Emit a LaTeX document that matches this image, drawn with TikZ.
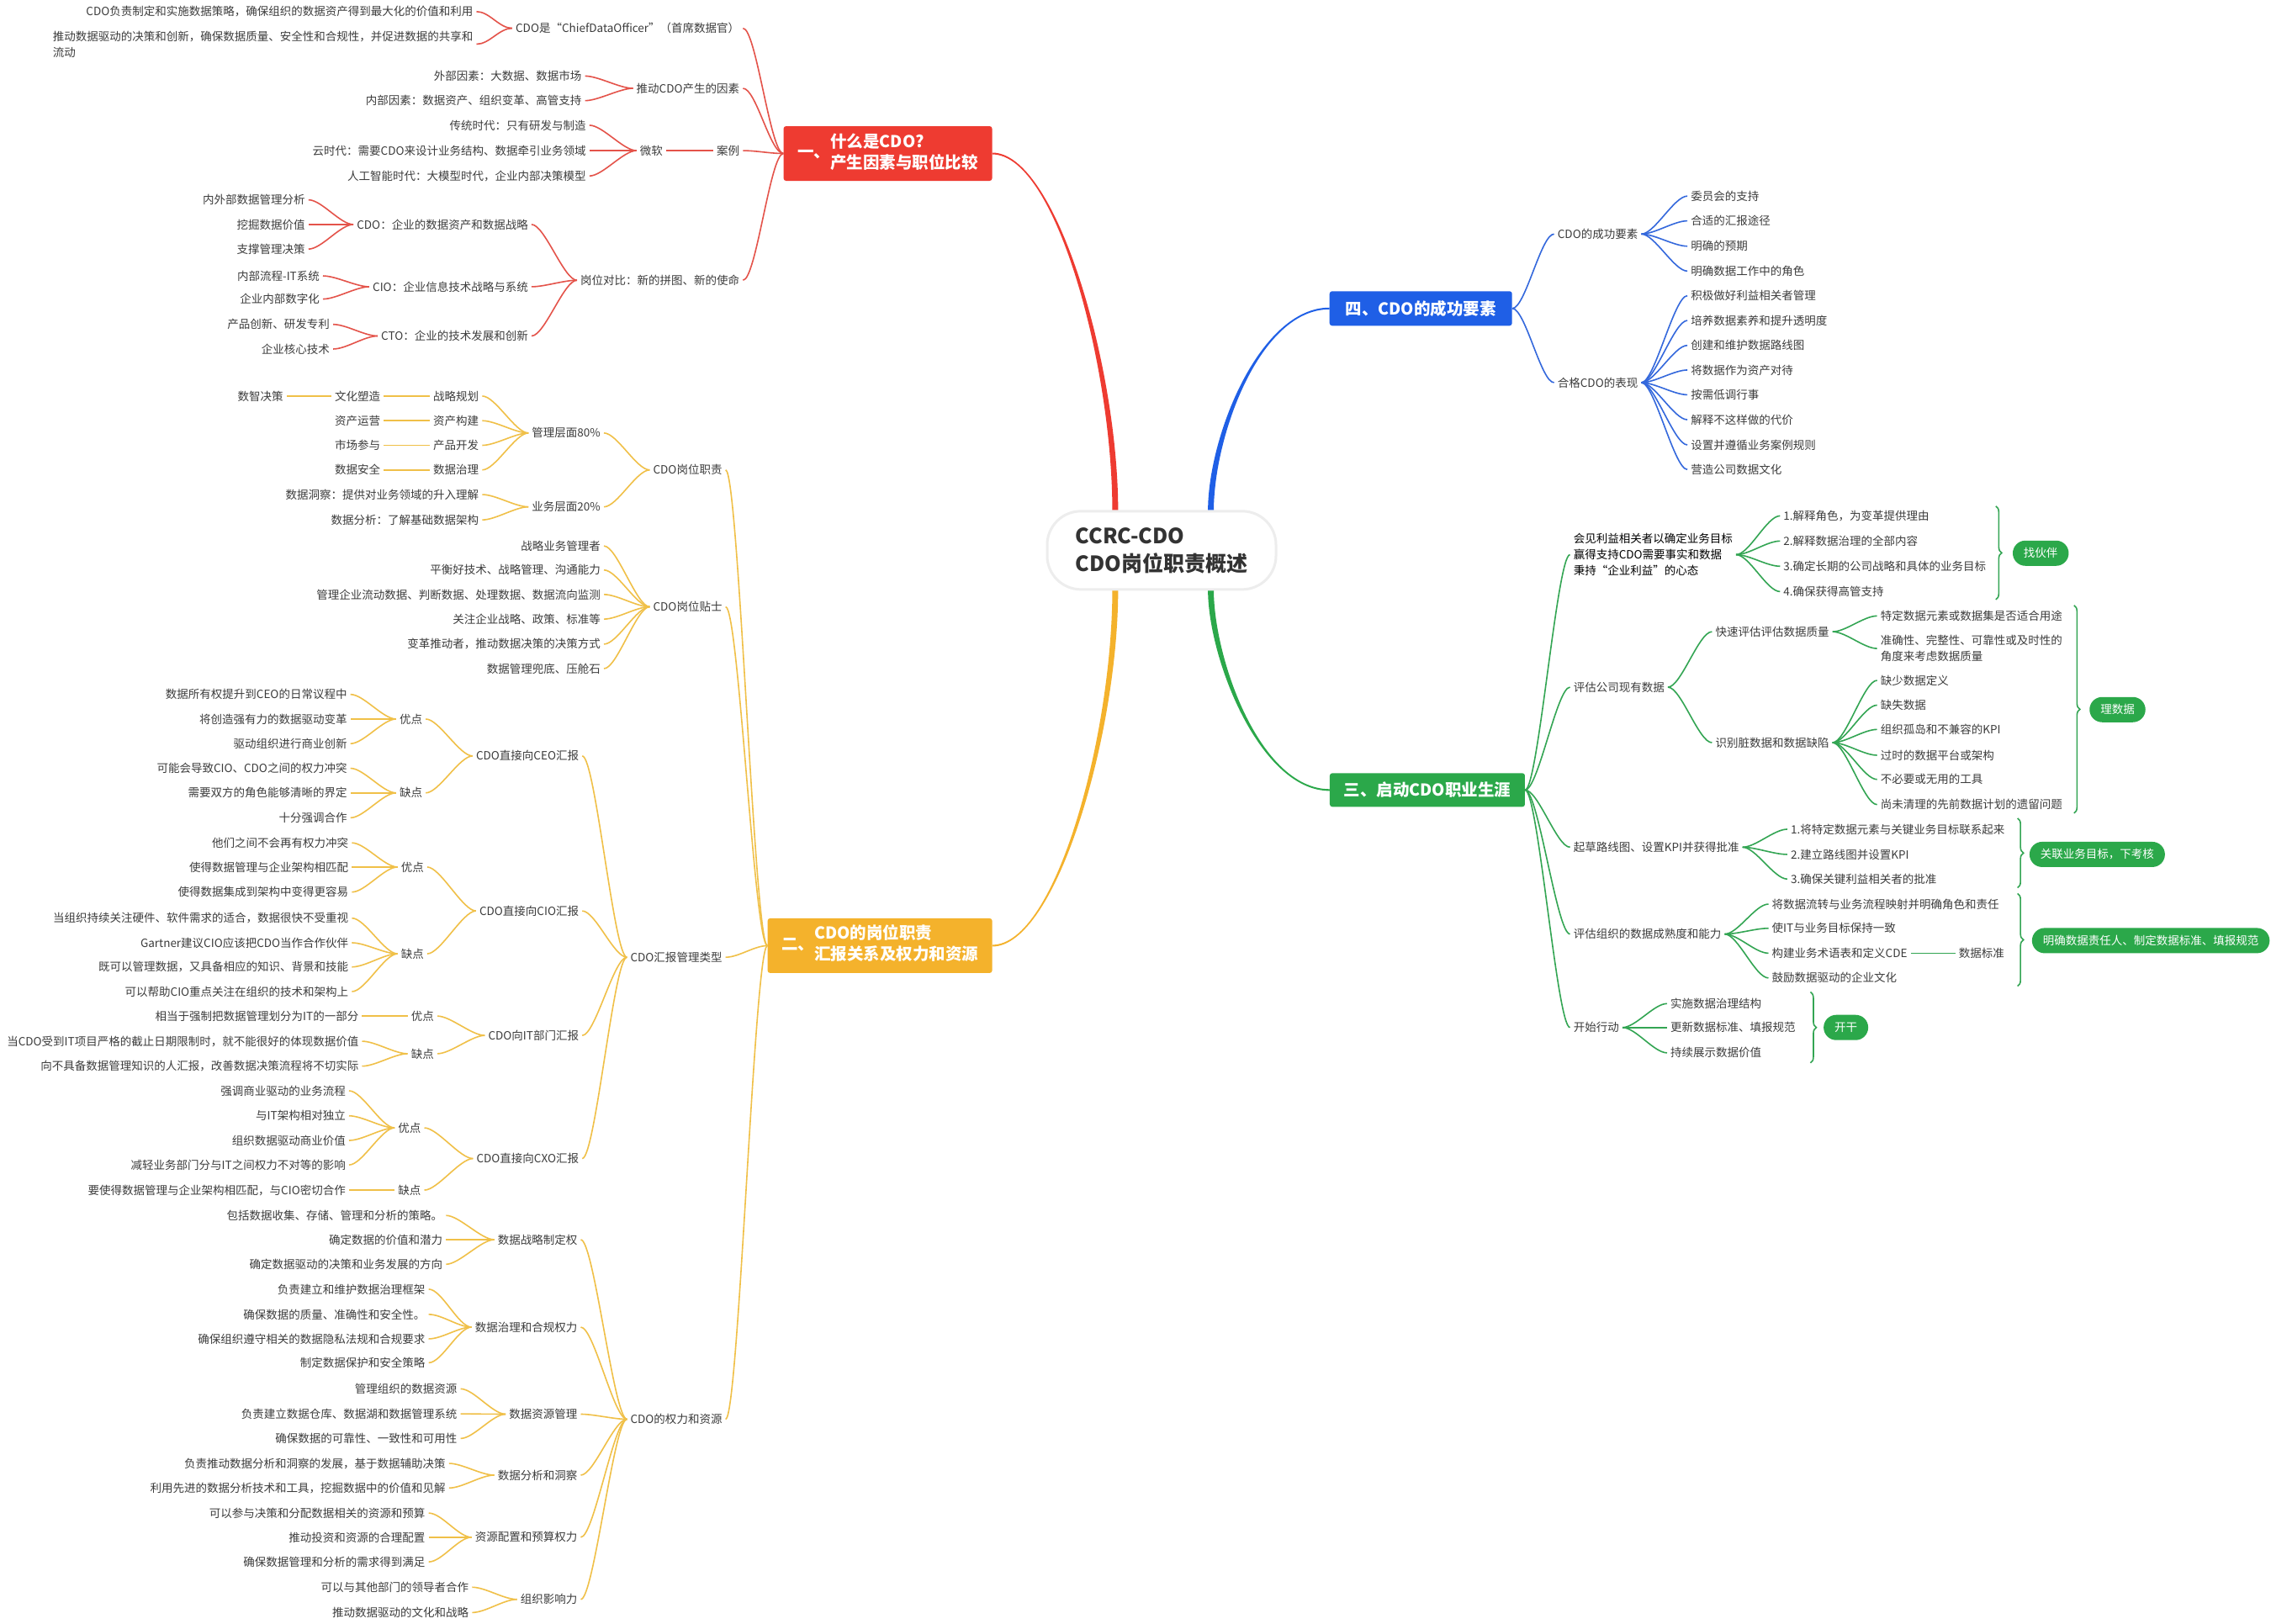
\documentclass[tikz,border=0pt]{standalone}
\usepackage{fontspec}
\setmainfont{Noto Sans CJK SC}
\usetikzlibrary{calc,decorations.pathreplacing}
\definecolor{ink}{HTML}{3C3C3C}
\definecolor{whatfill}{HTML}{EE3B31}
\definecolor{whatline}{HTML}{E4534A}
\definecolor{dutyfill}{HTML}{F4B22C}
\definecolor{dutyline}{HTML}{F0C048}
\definecolor{keysfill}{HTML}{1F5FE6}
\definecolor{keysline}{HTML}{3468DC}
\definecolor{careerfill}{HTML}{2BA84A}
\definecolor{careerline}{HTML}{33A553}
\newcommand{\leftkids}[3]{
  \foreach \kid in {#3} {
    \draw[#1] (#2.west) .. controls +(-9,0) and +(9,0) .. (\kid.east);
  }
}
\newcommand{\rightkids}[3]{
  \foreach \kid in {#3} {
    \draw[#1] (#2.east) .. controls +(9,0) and +(-9,0) .. (\kid.west);
  }
}
\newcommand{\trunk}[6]{
  \fill[#1] ($(#2)+(-2,0)$) .. controls +(#3) and +(#4) .. ($(#5)+(0,#6)$)
    -- ($(#5)+(0,-#6)$) .. controls +(#4) and +(#3) .. ($(#2)+(2,0)$) -- cycle;
  \fill[#1] (#2) circle[radius=3.4pt];
}
\newcommand{\topictext}[3]{#1\begin{tabular}{@{}l@{}}#2\\#3\end{tabular}}

\begin{document}
\begin{tikzpicture}[
    x=1.7219pt, y=-1.7219pt,
    every node/.style={font=\fontsize{13.5}{19}\selectfont, text=ink},
    lt/.style={anchor=east, inner sep=4pt, align=left},
    rt/.style={anchor=west, inner sep=4pt, align=left},
    topic/.style={rounded corners=3pt, text=white, inner sep=0pt, font=\fontsize{19.5}{25}\selectfont\bfseries},
    root/.style={rounded corners=40pt, draw=black!7, line width=3pt, fill=white, align=left, minimum width=272pt, minimum height=93pt, text=black!80, font=\fontsize{25}{33}\selectfont\bfseries},
    pill/.style={fill=careerfill, text=white, rounded corners=15pt, minimum height=30pt, inner xsep=13pt, inner ysep=0pt},
    what link/.style={draw=whatline, line width=1.6pt},
    duty link/.style={draw=dutyline, line width=1.6pt},
    keys link/.style={draw=keysline, line width=1.6pt},
    career link/.style={draw=careerline, line width=1.6pt},
    brace link/.style={draw=careerline, line width=1.6pt, decorate, decoration={brace, amplitude=7pt}},
  ]
  \useasboundingbox (0,0) rectangle (1568,1121);
  \fill[white] (0,0) rectangle (1568,1121);

  \node[topic, fill=whatfill, minimum width=248pt, minimum height=65pt] (what) at (613,106) {\topictext{一、}{什么是CDO?}{产生因素与职位比较}};
  \node[topic, fill=dutyfill, minimum width=267pt, minimum height=65pt] (duty) at (607.5,653) {\topictext{二、}{CDO的岗位职责}{汇报关系及权力和资源}};
  \node[topic, fill=keysfill, minimum width=217pt, minimum height=41pt] (keys) at (981,213) {四、CDO的成功要素};
  \node[topic, fill=careerfill, minimum width=232pt, minimum height=40pt] (career) at (985.5,545.5) {三、启动CDO职业生涯};

  \coordinate (root-nw) at (770,353);
  \coordinate (root-ne) at (836,353);
  \coordinate (root-sw) at (770,407);
  \coordinate (root-se) at (836,407);
  \trunk{whatfill}{root-nw}{0,-100}{44,0}{what.east}{0.6}
  \trunk{dutyfill}{root-sw}{0,100}{44,0}{duty.east}{-0.6}
  \trunk{keysfill}{root-ne}{0,-52}{-48,0}{keys.west}{-0.6}
  \trunk{careerfill}{root-se}{0,48}{-48,0}{career.west}{0.6}

  \node[root] (root) at (802,380) {CCRC-CDO\\CDO岗位职责概述};

  % 一
  \node[lt] (what-chief) at (513,19.5) {CDO是“ChiefDataOfficer”（首席数据官）};
  \node[lt] (what-drive) at (513,61) {推动CDO产生的因素};
  \node[lt] (what-case) at (513,104) {案例};
  \node[lt] (what-compare) at (513,193.5) {岗位对比：新的拼图、新的使命};
  \leftkids{what link}{what}{what-chief,what-drive,what-case,what-compare}

  \node[lt] (chief-a) at (329,8) {CDO负责制定和实施数据策略，确保组织的数据资产得到最大化的价值和利用};
  \node[lt] (chief-b) at (329,30.5) {推动数据驱动的决策和创新，确保数据质量、安全性和合规性，并促进数据的共享和\\流动};
  \leftkids{what link}{what-chief}{chief-a,chief-b}

  \node[lt] (drive-out) at (404,52.5) {外部因素：大数据、数据市场};
  \node[lt] (drive-in) at (404,69.5) {内部因素：数据资产、组织变革、高管支持};
  \leftkids{what link}{what-drive}{drive-out,drive-in}

  \node[lt] (case-ms) at (460,104) {微软};
  \leftkids{what link}{what-case}{case-ms}
  \node[lt] (era-a) at (407,86.5) {传统时代：只有研发与制造};
  \node[lt] (era-b) at (407,104) {云时代：需要CDO来设计业务结构、数据牵引业务领域};
  \node[lt] (era-c) at (407,121.5) {人工智能时代：大模型时代，企业内部决策模型};
  \leftkids{what link}{case-ms}{era-a,era-b,era-c}

  \node[lt] (cmp-cdo) at (367,155) {CDO：企业的数据资产和数据战略};
  \node[lt] (cmp-cio) at (367,198) {CIO：企业信息技术战略与系统};
  \node[lt] (cmp-cto) at (367,232) {CTO：企业的技术发展和创新};
  \leftkids{what link}{what-compare}{cmp-cdo,cmp-cio,cmp-cto}
  \node[lt] (cdo-a) at (213,138) {内外部数据管理分析};
  \node[lt] (cdo-b) at (213,155) {挖掘数据价值};
  \node[lt] (cdo-c) at (213,172) {支撑管理决策};
  \leftkids{what link}{cmp-cdo}{cdo-a,cdo-b,cdo-c}
  \node[lt] (cio-a) at (223,190.5) {内部流程-IT系统};
  \node[lt] (cio-b) at (223,206.5) {企业内部数字化};
  \leftkids{what link}{cmp-cio}{cio-a,cio-b}
  \node[lt] (cto-a) at (230,224) {产品创新、研发专利};
  \node[lt] (cto-b) at (230,241) {企业核心技术};
  \leftkids{what link}{cmp-cto}{cto-a,cto-b}

  % 二
  \node[lt] (duty-role) at (501,324.5) {CDO岗位职责};
  \node[lt] (duty-tips) at (501,419) {CDO岗位贴士};
  \node[lt] (duty-report) at (501,661) {CDO汇报管理类型};
  \node[lt] (duty-power) at (501,980) {CDO的权力和资源};
  \leftkids{duty link}{duty}{duty-role,duty-tips,duty-report,duty-power}

  \node[lt] (role-mgmt) at (417,299) {管理层面80\%};
  \node[lt] (role-biz) at (417,350) {业务层面20\%};
  \leftkids{duty link}{duty-role}{role-mgmt,role-biz}
  \node[lt] (mgmt-a) at (333,273.5) {战略规划};
  \node[lt] (mgmt-b) at (333,290.5) {资产构建};
  \node[lt] (mgmt-c) at (333,307.5) {产品开发};
  \node[lt] (mgmt-d) at (333,324.5) {数据治理};
  \leftkids{duty link}{role-mgmt}{mgmt-a,mgmt-b,mgmt-c,mgmt-d}
  \node[lt] (mgmt-a2) at (265,273.5) {文化塑造};
  \node[lt] (mgmt-a3) at (198,273.5) {数智决策};
  \node[lt] (mgmt-b2) at (265,290.5) {资产运营};
  \node[lt] (mgmt-c2) at (265,307.5) {市场参与};
  \node[lt] (mgmt-d2) at (265,324.5) {数据安全};
  \leftkids{duty link}{mgmt-a}{mgmt-a2}
  \leftkids{duty link}{mgmt-a2}{mgmt-a3}
  \leftkids{duty link}{mgmt-b}{mgmt-b2}
  \leftkids{duty link}{mgmt-c}{mgmt-c2}
  \leftkids{duty link}{mgmt-d}{mgmt-d2}
  \node[lt] (biz-a) at (333,341.5) {数据洞察：提供对业务领域的升入理解};
  \node[lt] (biz-b) at (333,359) {数据分析：了解基础数据架构};
  \leftkids{duty link}{role-biz}{biz-a,biz-b}

  \node[lt] (tip-1) at (417,377) {战略业务管理者};
  \node[lt] (tip-2) at (417,393.6) {平衡好技术、战略管理、沟通能力};
  \node[lt] (tip-3) at (417,410.5) {管理企业流动数据、判断数据、处理数据、数据流向监测};
  \node[lt] (tip-4) at (417,427.5) {关注企业战略、政策、标准等};
  \node[lt] (tip-5) at (417,444.8) {变革推动者，推动数据决策的决策方式};
  \node[lt] (tip-6) at (417,461.7) {数据管理兜底、压舱石};
  \leftkids{duty link}{duty-tips}{tip-1,tip-2,tip-3,tip-4,tip-5,tip-6}

  \node[lt] (rep-ceo) at (402,522) {CDO直接向CEO汇报};
  \node[lt] (rep-cio) at (402,629) {CDO直接向CIO汇报};
  \node[lt] (rep-it) at (402,715) {CDO向IT部门汇报};
  \node[lt] (rep-cxo) at (402,800) {CDO直接向CXO汇报};
  \leftkids{duty link}{duty-report}{rep-ceo,rep-cio,rep-it,rep-cxo}

  \node[lt] (ceo-pro) at (294,496.5) {优点};
  \node[lt] (ceo-con) at (294,547.5) {缺点};
  \leftkids{duty link}{rep-ceo}{ceo-pro,ceo-con}
  \node[lt] (ceo-pro-a) at (242,479.5) {数据所有权提升到CEO的日常议程中};
  \node[lt] (ceo-pro-b) at (242,496.5) {将创造强有力的数据驱动变革};
  \node[lt] (ceo-pro-c) at (242,513.5) {驱动组织进行商业创新};
  \leftkids{duty link}{ceo-pro}{ceo-pro-a,ceo-pro-b,ceo-pro-c}
  \node[lt] (ceo-con-a) at (242,530.5) {可能会导致CIO、CDO之间的权力冲突};
  \node[lt] (ceo-con-b) at (242,547.5) {需要双方的角色能够清晰的界定};
  \node[lt] (ceo-con-c) at (242,564.7) {十分强调合作};
  \leftkids{duty link}{ceo-con}{ceo-con-a,ceo-con-b,ceo-con-c}

  \node[lt] (cio-pro) at (295,598.7) {优点};
  \node[lt] (cio-con) at (295,658.6) {缺点};
  \leftkids{duty link}{rep-cio}{cio-pro,cio-con}
  \node[lt] (cio-pro-a) at (243,582) {他们之间不会再有权力冲突};
  \node[lt] (cio-pro-b) at (243,598.7) {使得数据管理与企业架构相匹配};
  \node[lt] (cio-pro-c) at (243,616) {使得数据集成到架构中变得更容易};
  \leftkids{duty link}{cio-pro}{cio-pro-a,cio-pro-b,cio-pro-c}
  \node[lt] (cio-con-a) at (243,634) {当组织持续关注硬件、软件需求的适合，数据很快不受重视};
  \node[lt] (cio-con-b) at (243,651) {Gartner建议CIO应该把CDO当作合作伙伴};
  \node[lt] (cio-con-c) at (243,667.7) {既可以管理数据，又具备相应的知识、背景和技能};
  \node[lt] (cio-con-d) at (243,684.7) {可以帮助CIO重点关注在组织的技术和架构上};
  \leftkids{duty link}{cio-con}{cio-con-a,cio-con-b,cio-con-c,cio-con-d}

  \node[lt] (it-pro) at (302,701.6) {优点};
  \node[lt] (it-con) at (302,727.6) {缺点};
  \leftkids{duty link}{rep-it}{it-pro,it-con}
  \node[lt] (it-pro-a) at (250,701.6) {相当于强制把数据管理划分为IT的一部分};
  \leftkids{duty link}{it-pro}{it-pro-a}
  \node[lt] (it-con-a) at (250,719) {当CDO受到IT项目严格的截止日期限制时，就不能很好的体现数据价值};
  \node[lt] (it-con-b) at (250,736.2) {向不具备数据管理知识的人汇报，改善数据决策流程将不切实际};
  \leftkids{duty link}{it-con}{it-con-a,it-con-b}

  \node[lt] (cxo-pro) at (293,778.8) {优点};
  \node[lt] (cxo-con) at (293,821.8) {缺点};
  \leftkids{duty link}{rep-cxo}{cxo-pro,cxo-con}
  \node[lt] (cxo-pro-a) at (241,753.2) {强调商业驱动的业务流程};
  \node[lt] (cxo-pro-b) at (241,770.5) {与IT架构相对独立};
  \node[lt] (cxo-pro-c) at (241,787.5) {组织数据驱动商业价值};
  \node[lt] (cxo-pro-d) at (241,804.4) {减轻业务部门分与IT之间权力不对等的影响};
  \leftkids{duty link}{cxo-pro}{cxo-pro-a,cxo-pro-b,cxo-pro-c,cxo-pro-d}
  \node[lt] (cxo-con-a) at (241,821.8) {要使得数据管理与企业架构相匹配，与CIO密切合作};
  \leftkids{duty link}{cxo-con}{cxo-con-a}

  \node[lt] (pow-strat) at (401,856) {数据战略制定权};
  \node[lt] (pow-gov) at (401,916.4) {数据治理和合规权力};
  \node[lt] (pow-res) at (401,976.5) {数据资源管理};
  \node[lt] (pow-ana) at (401,1018.6) {数据分析和洞察};
  \node[lt] (pow-bud) at (401,1061.5) {资源配置和预算权力};
  \node[lt] (pow-inf) at (401,1104.4) {组织影响力};
  \leftkids{duty link}{duty-power}{pow-strat,pow-gov,pow-res,pow-ana,pow-bud,pow-inf}
  \node[lt] (strat-a) at (308,839.3) {包括数据收集、存储、管理和分析的策略。};
  \node[lt] (strat-b) at (308,856) {确定数据的价值和潜力};
  \node[lt] (strat-c) at (308,873) {确定数据驱动的决策和业务发展的方向};
  \leftkids{duty link}{pow-strat}{strat-a,strat-b,strat-c}
  \node[lt] (gov-a) at (296,890.2) {负责建立和维护数据治理框架};
  \node[lt] (gov-b) at (296,907.6) {确保数据的质量、准确性和安全性。};
  \node[lt] (gov-c) at (296,924.5) {确保组织遵守相关的数据隐私法规和合规要求};
  \node[lt] (gov-d) at (296,941) {制定数据保护和安全策略};
  \leftkids{duty link}{pow-gov}{gov-a,gov-b,gov-c,gov-d}
  \node[lt] (res-a) at (318,959) {管理组织的数据资源};
  \node[lt] (res-b) at (318,976.3) {负责建立数据仓库、数据湖和数据管理系统};
  \node[lt] (res-c) at (318,993.3) {确保数据的可靠性、一致性和可用性};
  \leftkids{duty link}{pow-res}{res-a,res-b,res-c}
  \node[lt] (ana-a) at (310,1010.5) {负责推动数据分析和洞察的发展，基于数据辅助决策};
  \node[lt] (ana-b) at (310,1027.5) {利用先进的数据分析技术和工具，挖掘数据中的价值和见解};
  \leftkids{duty link}{pow-ana}{ana-a,ana-b}
  \node[lt] (bud-a) at (296,1044.8) {可以参与决策和分配数据相关的资源和预算};
  \node[lt] (bud-b) at (296,1061.5) {推动投资和资源的合理配置};
  \node[lt] (bud-c) at (296,1078.5) {确保数据管理和分析的需求得到满足};
  \leftkids{duty link}{pow-bud}{bud-a,bud-b,bud-c}
  \node[lt] (inf-a) at (326,1096) {可以与其他部门的领导者合作};
  \node[lt] (inf-b) at (326,1113.5) {推动数据驱动的文化和战略};
  \leftkids{duty link}{pow-inf}{inf-a,inf-b}

  % 四
  \node[rt] (keys-need) at (1073,161.6) {CDO的成功要素};
  \node[rt] (keys-good) at (1073,264.2) {合格CDO的表现};
  \rightkids{keys link}{keys}{keys-need,keys-good}
  \node[rt] (need-a) at (1165,135.4) {委员会的支持};
  \node[rt] (need-b) at (1165,152.5) {合适的汇报途径};
  \node[rt] (need-c) at (1165,170) {明确的预期};
  \node[rt] (need-d) at (1165,187.2) {明确数据工作中的角色};
  \rightkids{keys link}{keys-need}{need-a,need-b,need-c,need-d}
  \node[rt] (good-a) at (1165,204.2) {积极做好利益相关者管理};
  \node[rt] (good-b) at (1165,221.3) {培养数据素养和提升透明度};
  \node[rt] (good-c) at (1165,238.5) {创建和维护数据路线图};
  \node[rt] (good-d) at (1165,255.5) {将数据作为资产对待};
  \node[rt] (good-e) at (1165,272.6) {按需低调行事};
  \node[rt] (good-f) at (1165,289.8) {解释不这样做的代价};
  \node[rt] (good-g) at (1165,307.2) {设置并遵循业务案例规则};
  \node[rt] (good-h) at (1165,324.2) {营造公司数据文化};
  \rightkids{keys link}{keys-good}{good-a,good-b,good-c,good-d,good-e,good-f,good-g,good-h}

  % 三
  \node[rt, text=black] (car-meet) at (1084,383) {会见利益相关者以确定业务目标\\赢得支持CDO需要事实和数据\\秉持“企业利益”的心态};
  \node[rt] (car-assess) at (1084,474.5) {评估公司现有数据};
  \node[rt] (car-draft) at (1084,585) {起草路线图、设置KPI并获得批准};
  \node[rt] (car-mature) at (1084,645) {评估组织的数据成熟度和能力};
  \node[rt] (car-act) at (1084,709.5) {开始行动};
  \rightkids{career link}{career}{car-meet,car-assess,car-draft,car-mature,car-act}

  \node[rt] (meet-a) at (1229,356.2) {1.解释角色，为变革提供理由};
  \node[rt] (meet-b) at (1229,373.6) {2.解释数据治理的全部内容};
  \node[rt] (meet-c) at (1229,391) {3.确定长期的公司战略和具体的业务目标};
  \node[rt] (meet-d) at (1229,408.5) {4.确保获得高管支持};
  \rightkids{career link}{car-meet}{meet-a,meet-b,meet-c,meet-d}

  \node[rt] (assess-quick) at (1182,436.2) {快速评估评估数据质量};
  \node[rt] (assess-dirty) at (1182,512.8) {识别脏数据和数据缺陷};
  \rightkids{career link}{car-assess}{assess-quick,assess-dirty}
  \node[rt] (quick-a) at (1296,425.3) {特定数据元素或数据集是否适合用途};
  \node[rt] (quick-b) at (1296,447.8) {准确性、完整性、可靠性或及时性的\\角度来考虑数据质量};
  \rightkids{career link}{assess-quick}{quick-a,quick-b}
  \node[rt] (dirty-a) at (1296,469.8) {缺少数据定义};
  \node[rt] (dirty-b) at (1296,486.9) {缺失数据};
  \node[rt] (dirty-c) at (1296,503.7) {组织孤岛和不兼容的KPI};
  \node[rt] (dirty-d) at (1296,521.5) {过时的数据平台或架构};
  \node[rt] (dirty-e) at (1296,538.2) {不必要或无用的工具};
  \node[rt] (dirty-f) at (1296,555.6) {尚未清理的先前数据计划的遗留问题};
  \rightkids{career link}{assess-dirty}{dirty-a,dirty-b,dirty-c,dirty-d,dirty-e,dirty-f}

  \node[rt] (draft-a) at (1234,572.6) {1.将特定数据元素与关键业务目标联系起来};
  \node[rt] (draft-b) at (1234,590) {2.建立路线图并设置KPI};
  \node[rt] (draft-c) at (1234,607) {3.确保关键利益相关者的批准};
  \rightkids{career link}{car-draft}{draft-a,draft-b,draft-c}

  \node[rt] (mature-a) at (1221,624.3) {将数据流转与业务流程映射并明确角色和责任};
  \node[rt] (mature-b) at (1221,641) {使IT与业务目标保持一致};
  \node[rt] (mature-c) at (1221,658.2) {构建业务术语表和定义CDE};
  \node[rt] (mature-d) at (1221,675.3) {鼓励数据驱动的企业文化};
  \rightkids{career link}{car-mature}{mature-a,mature-b,mature-c,mature-d}
  \node[rt] (mature-cde) at (1350,658.2) {数据标准};
  \rightkids{career link}{mature-c}{mature-cde}

  \node[rt] (act-a) at (1151,693) {实施数据治理结构};
  \node[rt] (act-b) at (1151,709.5) {更新数据标准、填报规范};
  \node[rt] (act-c) at (1151,727) {持续展示数据价值};
  \rightkids{career link}{car-act}{act-a,act-b,act-c}

  \coordinate (partner-top) at (1378,349.5);
  \coordinate (partner-bot) at (1378,414);
  \coordinate (data-top) at (1432,418);
  \coordinate (data-bot) at (1432,561.5);
  \coordinate (kpi-top) at (1393,565);
  \coordinate (kpi-bot) at (1393,613);
  \coordinate (std-top) at (1393,617);
  \coordinate (std-bot) at (1393,681);
  \coordinate (go-top) at (1250,685);
  \coordinate (go-bot) at (1250,734);
  \foreach \b in {partner,data,kpi,std,go} {
    \draw[brace link] (\b-top) -- (\b-bot);
  }
  \node[pill] (partner) at (1409,382) {找伙伴};
  \node[pill] (data-pill) at (1462,490) {理数据};
  \node[pill] (kpi-pill) at (1448,590) {关联业务目标，下考核};
  \node[pill] (std-pill) at (1485,649.5) {明确数据责任人、制定数据标准、填报规范};
  \node[pill] (go-pill) at (1274.5,709.5) {开干};

\end{tikzpicture}
\end{document}
